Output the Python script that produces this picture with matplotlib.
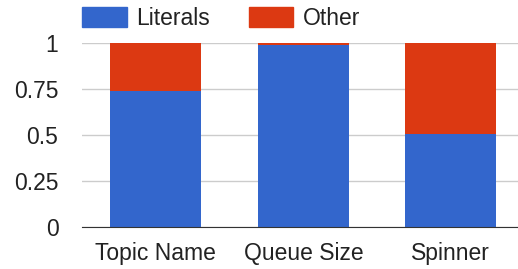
import matplotlib
matplotlib.use("Agg")
import matplotlib.pyplot as plt
from matplotlib.patches import Patch

categories = ["Topic Name", "Queue Size", "Spinner"]
literals = [0.74, 0.99, 0.505]
other = [0.26, 0.01, 0.495]
yticks = [0, 0.25, 0.5, 0.75, 1]
ytick_labels = ["0", "0.25", "0.5", "0.75", "1"]

blue = "#3366CC"
red = "#DC3912"
fs = 16.5

plt.rcParams['font.family'] = ['Liberation Sans', 'DejaVu Sans']
fig = plt.figure(figsize=(5.18, 2.69), dpi=100)
ax = fig.add_axes([82/518, 1 - 227/269, (518-82)/518, (227-43)/269])

x = list(range(len(categories)))
ax.bar(x, literals, width=0.617, color=blue, zorder=3, label="Literals")
ax.bar(x, other, bottom=literals, width=0.617, color=red, zorder=3, label="Other")

ax.set_ylim(0, 1)
ax.set_xlim(-0.5, 2.455)
ax.set_yticks(yticks)
ax.set_yticklabels(ytick_labels)
ax.set_xticks(x)
ax.set_xticklabels(categories)
ax.tick_params(axis='both', length=0, labelsize=fs, colors="#222222")
ax.tick_params(axis='y', pad=17)
ax.tick_params(axis='x', pad=11)
ax.yaxis.grid(True, color="#CCCCCC", linewidth=1, zorder=0)
for s in ["top", "right", "left"]:
    ax.spines[s].set_visible(False)
ax.spines["bottom"].set_color("#333333")
ax.spines["bottom"].set_zorder(4)

handles = [Patch(color=blue), Patch(color=red)]
leg = fig.legend(handles, ["Literals", "Other"], loc="upper left",
                 bbox_to_anchor=(82/518, 1 - 7/269), ncol=2, frameon=False,
                 fontsize=fs, handlelength=1.96, handleheight=0.96,
                 handletextpad=0.39, columnspacing=1.7, labelcolor="#222222",
                 borderpad=0, borderaxespad=0)

fig.savefig("out.png", dpi=100)
